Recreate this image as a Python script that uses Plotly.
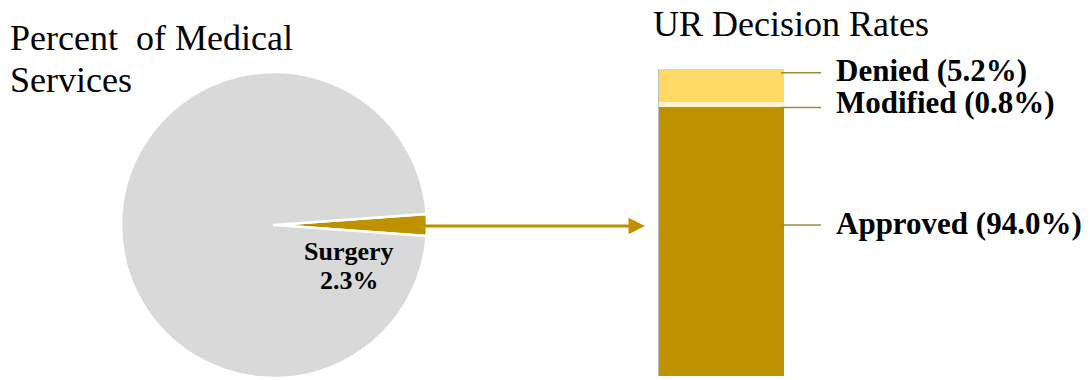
import plotly.graph_objects as go

# Share of all medical services handled
service_labels = ["Surgery", "Other services"]
service_share = [2.3, 97.7]
service_colors = ["#BF9000", "#D9D9D9"]

# Utilization-review outcomes for surgery requests (stacked bottom to top)
decision_labels = ["Approved", "Modified", "Denied"]
decision_rates = [94.0, 0.8, 5.2]
decision_colors = ["#BF9000", "#FFF2CC", "#FFD966"]

W, H = 1090, 380
SERIF = "Liberation Serif, Times New Roman, serif"
LEADER = "#9E8A3C"

fig = go.Figure()

# Pie: surgery wedge centred on the 3 o'clock direction
half_wedge = service_share[0] * 3.6 / 2
fig.add_trace(go.Pie(
    labels=service_labels,
    values=service_share,
    sort=False,
    direction="clockwise",
    rotation=90 - half_wedge,
    marker=dict(colors=service_colors, line=dict(color="white", width=2.5)),
    textinfo="none",
    hoverinfo="label+percent",
    showlegend=False,
    domain=dict(x=[121 / W, 427 / W], y=[1 - 378 / H, 1 - 72 / H]),
))

# Stacked decision bar
for lab, val, col in zip(decision_labels, decision_rates, decision_colors):
    fig.add_trace(go.Bar(
        x=[0], y=[val], width=[1], name=lab,
        marker=dict(color=col, line=dict(width=0)),
        showlegend=False,
        hovertemplate=f"{lab}: {val:.1f}%<extra></extra>",
    ))

bar_px = 125  # pixel width of one x unit
x_max = (W - 659) / bar_px - 0.5

# Label placement (data units on the bar's y axis)
leader_y = [75.6, 94.0, 99.4]
text_y = [75.8, 94.8, 99.8]

annotations = []
shapes = []
for lab, val, ly, ty in zip(decision_labels, decision_rates, leader_y, text_y):
    shapes.append(dict(type="line", xref="x", yref="y", x0=0.476, x1=0.796,
                       y0=ly, y1=ly, line=dict(color=LEADER, width=1.5)))
    annotations.append(dict(
        xref="x", yref="y", x=0.9, y=ty, xanchor="left", yanchor="middle",
        text=f"<b>{lab} ({val:.1f}%)</b>", showarrow=False,
        font=dict(family=SERIF, size=31, color="black"),
    ))


def paper_text(x_px, y_px, text, size, anchor="center"):
    return dict(xref="paper", yref="paper", x=x_px / W, y=1 - y_px / H,
                xanchor=anchor, yanchor="middle", text=text, showarrow=False,
                font=dict(family=SERIF, size=size, color="black"))


# Pie slice label
annotations += [
    paper_text(349, 251, f"<b>{service_labels[0]}</b>", 26),
    paper_text(349, 280, f"<b>{service_share[0]:.1f}%</b>", 26),
]

# Titles
annotations += [
    paper_text(8, 38, "Percent  of Medical", 36, "left"),
    paper_text(8, 80, "Services", 36, "left"),
    paper_text(651, 24, "UR Decision Rates", 36, "left"),
]

# Connector arrow from the surgery wedge to the bar
annotations.append(dict(
    xref="paper", yref="paper", x=645 / W, y=1 - 226 / H,
    axref="pixel", ayref="pixel", ax=-222, ay=0,
    text="", showarrow=True, arrowhead=2, arrowsize=1.1,
    arrowwidth=3, arrowcolor="#BF9000", standoff=0,
))

fig.update_layout(
    width=W, height=H,
    margin=dict(l=0, r=0, t=0, b=0),
    paper_bgcolor="white", plot_bgcolor="rgba(0,0,0,0)",
    barmode="stack",
    xaxis=dict(domain=[659 / W, 1], range=[-0.5, x_max], visible=False,
               fixedrange=True),
    yaxis=dict(domain=[1 - 376 / H, 1 - 69 / H], range=[52, 100],
               showgrid=False, zeroline=False, showticklabels=False,
               ticks="", showline=True, linecolor="#BFBFBF", linewidth=1,
               fixedrange=True),
    annotations=annotations,
    shapes=shapes,
)

fig.write_html("out.html")
